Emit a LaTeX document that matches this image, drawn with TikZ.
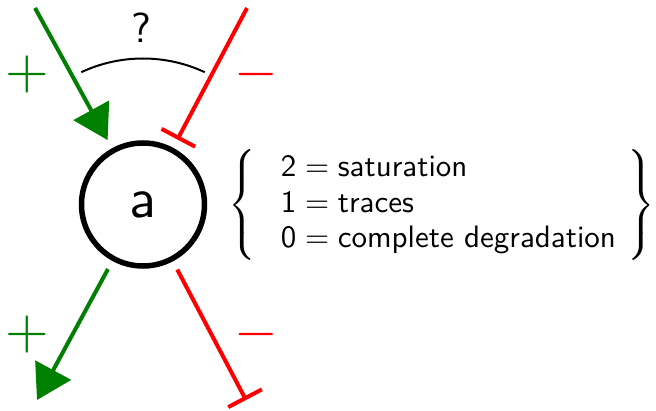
\documentclass[tikz,border=0pt]{standalone}
\usetikzlibrary{arrows.meta}
\renewcommand{\familydefault}{\sfdefault}
\definecolor{pgreen}{RGB}{0,128,0}
\definecolor{pred}{RGB}{255,0,0}
\tikzset{
  act/.style={pgreen, line width=4pt, -{Triangle[length=34pt,width=40pt]}},
  inh/.style={pred, line width=4pt, -{Bar[width=38pt]}},
  sign/.style={inner sep=0pt, scale=5.6},
  txt/.style={inner sep=0pt, scale=3.1},
}
\begin{document}
\begin{tikzpicture}[x=1pt,y=1pt]
\useasboundingbox (0,0) rectangle (656,410);
\node[circle, draw, line width=5.5pt, minimum size=123pt, inner sep=0pt, outer sep=12pt] (a) at (143,205.5) {};
\node[inner sep=0pt, scale=5.6] (alabel) at (a.center) {a};
\coordinate (tl) at (35,402);
\coordinate (tr) at (247,402);
\coordinate (bl) at (37,10);
\coordinate (br) at (246,10);
\draw[act] (tl) -- (a);
\draw[inh] (tr) -- (a);
\draw[act] (a) -- (bl);
\draw[inh] (a) -- (br);
\draw[line width=2pt] ([shift={(115:146)}]a.center) arc[start angle=115, end angle=65, radius=146];
\node[inner sep=0pt, scale=4.2, anchor=base] (q) at (141,367) {?};
\node[sign, pgreen] (p1) at (27,335) {$+$};
\node[sign, pgreen] (p2) at (27,75) {$+$};
\node[sign, pred] (m1) at (256,335) {$-$};
\node[sign, pred] (m2) at (256,75) {$-$};
\node[txt, anchor=west] (legend) at (228,205) {\renewcommand{\arraystretch}{0.955}$\left\{\begin{array}{@{\hspace{8pt}}l@{\hspace{3.8pt}}}
\mbox{2}{}={}\mbox{saturation}\\
\mbox{1}{}={}\mbox{traces}\\
\mbox{0}{}={}\mbox{complete degradation}
\end{array}\right\}$};
\end{tikzpicture}
\end{document}
